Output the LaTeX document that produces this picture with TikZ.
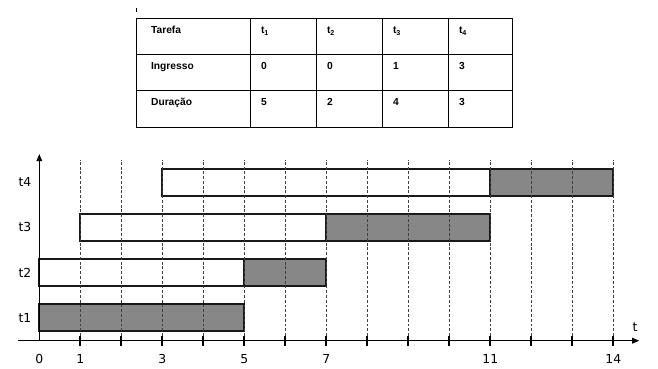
\documentclass[tikz,border=0pt]{standalone}
\usepackage{fontspec}
\setmainfont{DejaVu Sans}
\newfontfamily\tabfont{Liberation Sans}
\usetikzlibrary{arrows.meta}
\definecolor{busygray}{RGB}{135,135,135}

\begin{document}
\begin{tikzpicture}[
    tabline/.style={line width=0.6pt},
    tabtxt/.style={anchor=base west, inner sep=0pt, font=\tabfont\bfseries\fontsize{7.1}{8}\selectfont},
    axisline/.style={line width=0.7pt, -{Triangle[length=1.7mm,width=1.4mm]}},
    tickmark/.style={line width=1.5pt},
    gridline/.style={line width=0.45pt, black!75, dash pattern=on 2pt off 1.3pt},
    bar/.style={line width=1.2pt, draw=black!90},
    lbl/.style={font=\fontsize{8.6}{10}\selectfont, inner sep=1pt}
  ]
    \useasboundingbox (-0.959,-0.69) rectangle (15.09,8.31);

    % table
    \draw[line width=0.6pt] (2.38,8.02) -- (2.38,8.11);
    \foreach \x in {2.36,5.16,6.77,8.38,9.99,11.55}
        \draw[tabline] (\x,7.85) -- (\x,5.21);
    \foreach \y in {7.85,6.99,6.11,5.21}
        \draw[tabline] (2.36,\y) -- (11.55,\y);
    \node[tabtxt] (hd) at (2.72,7.484) {Tarefa};
    \node[tabtxt] (ing) at (2.72,6.624) {Ingresso};
    \node[tabtxt] (dur) at (2.72,5.744) {Duração};
    \foreach \x/\a/\b/\k in {5.40/0/5/1, 7.01/0/2/2, 8.62/1/4/3, 10.23/3/3/4} {
        \node[tabtxt] (hd\k) at (\x,7.484) {t\textsubscript{\k}};
        \node[tabtxt] (ing\k) at (\x,6.624) {\a};
        \node[tabtxt] (dur\k) at (\x,5.744) {\b};
    }

    % gantt bars
    \draw[bar, fill=busygray] (0,0.235) rectangle (5,0.89);
    \draw[bar, fill=white] (0,1.335) rectangle (5,1.99);
    \draw[bar, fill=busygray] (5,1.335) rectangle (7,1.99);
    \draw[bar, fill=white] (1,2.435) rectangle (7,3.09);
    \draw[bar, fill=busygray] (7,2.435) rectangle (11,3.09);
    \draw[bar, fill=white] (3,3.535) rectangle (11,4.19);
    \draw[bar, fill=busygray] (11,3.535) rectangle (14,4.19);

    \foreach \x in {1,...,14}
        \draw[gridline] (\x,0) -- (\x,4.41);

    % axes
    \draw[axisline] (-0.52,0) -- (14.63,0);
    \draw[axisline] (0,0) -- (0,4.55);
    \foreach \x in {1,...,14}
        \draw[tickmark] (\x,-0.13) -- (\x,0.11);

    \foreach \x in {0,1,3,5,7,11,14}
        \node[lbl] (x\x) at (\x,-0.44) {\x};
    \foreach \i in {1,...,4}
        \node[lbl] (t\i) at (-0.35,{0.5625+1.1*(\i-1)}) {t\i};
    \node[lbl] (tlab) at (14.53,0.34) {t};
\end{tikzpicture}
\end{document}
